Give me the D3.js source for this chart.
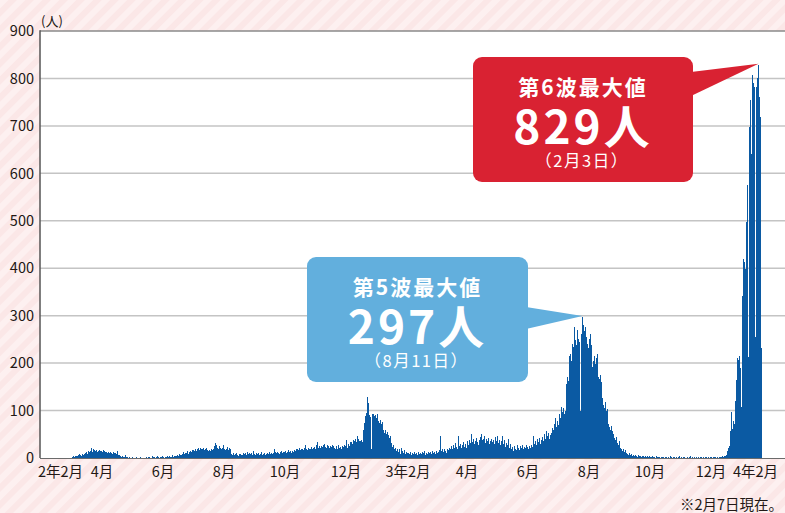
<!DOCTYPE html>
<html lang="ja">
<head>
<meta charset="utf-8">
<script src="https://cdn.jsdelivr.net/npm/d3@7"></script>
<style>
  html, body { margin: 0; padding: 0; background: #fbe8e8; }
  svg { display: block; font-family: "Noto Sans CJK JP", "Noto Sans", sans-serif; }
</style>
</head>
<body>
<div id="chart"></div>
<script>
// daily new cases
// 2020: from Feb 16 to Dec 31
const start2020 = "2020-02-16";
const cases2020 = [
  0,0,0,0,0,0,0,0,0,0,0,1,0,0,                                           // Feb 16-29
  0,0,0,0,0,0,0,0,0,0,0,0,0,0,0,0,0,0, 3,4,3,5,4,4, 6,8,7,5,9,7,8,       // Mar
  10,12,9,14,13, 15,21,12,18,16, 14,16,13,15,17,14,15,13,16,14, 12,13,11,12,10,13,11,9,12,10, // Apr
  11,8,15,7,6, 4,3,5,2,3,6,2,3,1,2, 1,0,2,1,0,1,3,0,1,0,2,0,1,0,0,1,    // May
  2,1,3,2,1,0,4,2,3,1,2,5,2,1,3,2,4,3,1,2,3,5,2,4,3,2,6,3,4,5,          // Jun
  4,6,5,8,7,6,9,12,8,10, 11,14,9,13,15,12,17,16,14,18, 15,19,21,17,22, 20,18,21,17,19,22, // Jul
  16, 15,17,14,18,16,20, 26,32,28,22, 19,25,21,18,22,27,20,17,19,23,16,21,18, 9,7,11,6,8,10,7, // Aug
  5,9,8,6,7,10, 8,10,7,12,9,11,8,10,6,14, 9,7,11,8,10,6,9,12,7,8, 10,7,9,11,  // Sep
  8,12,9,10,8,11, 18,12,10,13,11,9,12,14,10,13, 12,15,11,13,16,12,14,10,15,13, 17,15,19,18,16, // Oct
  21,17,20,18,16, 22,28,19,17,21,18,20,23,19,21, 24,20,27,34,22,25,21,26,23,28, 30,24,22,27,25, // Nov
  21,26,23,28,25, 22,19,25,18,27,21,24,20,26,23, 28,25,37,22,30,26,33, 34,30,38,36,41,33,46,39,35 // Dec
];

const start2021 = "2021-01-01";
const cases2021 = [
  35,38,33, 60,74,88,95, 128, 116, 90,86, 18, 92, 93,88,91,84,93, 78,74,80,72,76, 58,52,60,50,55, 48,42,46, // Jan
  32,24,28,18,22,15,20, 12,18,9,21,14,10,16,8,12,11, 10,8,12,7,11,9,13,8,10,7,12,            // Feb
  9,11,8,12,10,14,7,11,9,13,10, 12,8,14,10,13,9,15,11,12,16, 46, 14,18,12,20,15,11,19,16,21, // Mar
  18,25,20,28,22,32,24,19,47,26, 30,22,27,33,24,29,21, 35,28,38,31,51,34,40,29,36,42,33,27,38, // Apr
  44,51,37,41,46,32,39,35,43,30, 36,41,33,38,29,44,35,46,31,38, 27,35,46,29,38,24,32,28,41,22,30, // May
  18,24,14,26,20,17,28,21,16,25, 22,27,19,24,21,28,23,20,26,22,27,24, 46, 30,36,28,41,33,43,29, // Jun
  38,44,35,50,41,57,46,53,39,48, 52,64,58,72,85,66,78,70,92,84, 108,96,106,92,100, 156,170,162, 214,220,205, // Jul
  240,234, 276, 248,238, 270, 250,244, 100, 262, 297, 280,268, 276, 256, 241, 232,250, 262, 238, 191,
  205,214,198,210, 220, 170,166,174,160, 127,                                                  // Aug
  112,105,118,100, 103, 71,65,58,68,57, 50,42,38,45,32,28,35, 21,18,14,20,12,16,10, 9,7,10,6,8,5, // Sep
  6,4,7,5,3,6,4,5,3,4, 5,3,4,2,4,3,5,2,3,4, 2,3,1,4,2,3,2,1,3,2,2,      // Oct
  1,2,3,1,2,1,4,2,1,2, 3,1,2,1,2,5,1,2,1,3, 2,1,1,3,1,2,4,1,2,1,        // Nov
  2,1,3,1,2,1,2,3,1,2, 1,2,3,1,2,1,3,2,1,2, 2,3,1,2,1,2,3,2,4,3,5       // Dec
];

const start2022 = "2022-01-01";
const cases2022 = [
  4,6,14,21,25,57,96,62,78,71, 120,164,210,206,215,190,108,342,420,413,
  398,498,575,213,697,754,640,808,790,783,255,                           // Jan
  783,800,829,760,718,232                                                 // Feb 1-6
];

// x tick labels (one per two months)
const tickMonths = ["2020-02","2020-04","2020-06","2020-08","2020-10","2020-12",
                    "2021-02","2021-04","2021-06","2021-08","2021-10","2021-12","2022-02"];
const tickLabels = ["2年2月","4月","6月","8月","10月","12月",
                    "3年2月","4月","6月","8月","10月","12月","4年2月"];
const yTicks = [0,100,200,300,400,500,600,700,800,900];

// callouts
const peakLabels = ["第5波最大値","第6波最大値"];
const peakValues = [297, 829];
const peakDates = ["2021-08-11","2022-02-03"];
const peakDateLabels = ["（8月11日）","（2月3日）"];

// ---------------------------------------------------------------
const W = 785, H = 513;
const margin = { top: 31, right: 0, bottom: 55, left: 40 };

const parse = d3.utcParse("%Y-%m-%d");
const data = [];
[[start2020, cases2020],[start2021, cases2021],[start2022, cases2022]].forEach(([s, arr]) => {
  const d0 = parse(s);
  arr.forEach((v, i) => data.push({ date: d3.utcDay.offset(d0, i), value: v }));
});

const svg = d3.select("#chart").append("svg")
  .attr("width", W).attr("height", H);

// striped pink background
const defs = svg.append("defs");
const pat = defs.append("pattern")
  .attr("id", "stripes")
  .attr("width", 12).attr("height", 12)
  .attr("patternUnits", "userSpaceOnUse")
  .attr("patternTransform", "rotate(45)");
pat.append("rect").attr("width", 12).attr("height", 12).attr("fill", "#fbe7e7");
pat.append("rect").attr("width", 6).attr("height", 12).attr("fill", "#fdf0f0");
svg.append("rect").attr("width", W).attr("height", H).attr("fill", "url(#stripes)");

const x = d3.scaleUtc()
  .domain([parse("2020-02-16"), parse("2022-03-02")])
  .range([margin.left, W - margin.right]);

const y = d3.scaleLinear()
  .domain([0, 900])
  .range([H - margin.bottom, margin.top]);

const y0 = y(0);

// plot background
svg.append("rect")
  .attr("x", margin.left).attr("y", margin.top)
  .attr("width", W - margin.left).attr("height", y0 - margin.top)
  .attr("fill", "#fff");

// gridlines
svg.append("g").selectAll("line")
  .data(yTicks.filter(t => t > 0 && t < 900))
  .join("line")
  .attr("x1", margin.left).attr("x2", W)
  .attr("y1", d => y(d)).attr("y2", d => y(d))
  .attr("stroke", "#c4c4c4").attr("stroke-width", 1.5);

// bars
svg.append("g").selectAll("rect")
  .data(data)
  .join("rect")
  .attr("x", d => x(d.date))
  .attr("width", d => x(d3.utcDay.offset(d.date, 1)) - x(d.date))
  .attr("y", d => y(d.value))
  .attr("height", d => y0 - y(d.value))
  .attr("fill", "#0b5aa3")
  .attr("shape-rendering", "crispEdges");

// frame: top line, left axis, baseline
svg.append("line")
  .attr("x1", margin.left).attr("x2", W)
  .attr("y1", y(900)).attr("y2", y(900))
  .attr("stroke", "#8a8a8a").attr("stroke-width", 1.5);
svg.append("line")
  .attr("x1", margin.left).attr("x2", margin.left)
  .attr("y1", y(900) - 0.75).attr("y2", y0)
  .attr("stroke", "#555").attr("stroke-width", 1.5);
svg.append("line")
  .attr("x1", margin.left).attr("x2", W)
  .attr("y1", y0 + 0.5).attr("y2", y0 + 0.5)
  .attr("stroke", "#6b6b6b").attr("stroke-width", 1);

// y tick labels
svg.append("g").selectAll("text")
  .data(yTicks)
  .join("text")
  .attr("x", margin.left - 6)
  .attr("y", d => y(d))
  .attr("dy", "0.36em")
  .attr("text-anchor", "end")
  .attr("font-size", 14.5)
  .attr("fill", "#231815")
  .text(d => d);

svg.append("text")
  .attr("x", margin.left + 1).attr("y", 26)
  .attr("font-size", 13).attr("fill", "#231815")
  .text("(人)");

// x tick labels, centred a little past the month start, kept inside the frame
const parseMonth = d3.utcParse("%Y-%m");
const xLabels = svg.append("g").selectAll("text")
  .data(tickMonths)
  .join("text")
  .attr("y", y0 + 19)
  .attr("text-anchor", "middle")
  .attr("font-size", 14.5)
  .attr("fill", "#231815")
  .text((d, i) => tickLabels[i]);
xLabels.each(function (d) {
  const w = this.getComputedTextLength();
  let cx = x(d3.utcDay.offset(parseMonth(d), 17));
  cx = Math.max(cx, margin.left - 2 + w / 2);
  cx = Math.min(cx, W - 7 - w / 2);
  d3.select(this).attr("x", cx);
});

// footnote
svg.append("text")
  .attr("x", W - 2).attr("y", 510)
  .attr("text-anchor", "end")
  .attr("font-size", 14.5)
  .attr("fill", "#231815")
  .text("※2月7日現在。");

// callouts
const boxes = [
  { x: 307, y: 257, w: 221, h: 125, fill: "#62afdd", tailY: [307, 329] },
  { x: 473, y: 57,  w: 220, h: 125, fill: "#d92232", tailY: [72, 96] }
];

boxes.forEach((b, i) => {
  const g = svg.append("g");
  const tipX = x(parse(peakDates[i])) + 0.5;
  const tipY = y(peakValues[i]) - 1;
  g.append("path")
    .attr("d", `M${b.x + b.w - 2},${b.tailY[0]} L${tipX},${tipY} L${b.x + b.w - 2},${b.tailY[1]} Z`)
    .attr("fill", b.fill);
  g.append("rect")
    .attr("x", b.x).attr("y", b.y)
    .attr("width", b.w).attr("height", b.h)
    .attr("rx", 9)
    .attr("fill", b.fill);
  const cx = b.x + b.w / 2;
  g.append("text")
    .attr("x", cx).attr("y", b.y + 38)
    .attr("text-anchor", "middle")
    .attr("font-size", 21).attr("font-weight", "bold")
    .attr("letter-spacing", 2)
    .attr("fill", "#fff")
    .text(peakLabels[i]);
  g.append("text")
    .attr("x", cx).attr("y", b.y + 87)
    .attr("text-anchor", "middle")
    .attr("font-size", 46).attr("font-weight", "bold")
    .attr("letter-spacing", 3)
    .attr("fill", "#fff")
    .text(peakValues[i] + "人");
  g.append("text")
    .attr("x", cx - 1).attr("y", b.y + 110)
    .attr("text-anchor", "middle")
    .attr("font-size", 16.5)
    .attr("letter-spacing", 1.5)
    .attr("fill", "#fff")
    .text(peakDateLabels[i]);
});
</script>
</body>
</html>
